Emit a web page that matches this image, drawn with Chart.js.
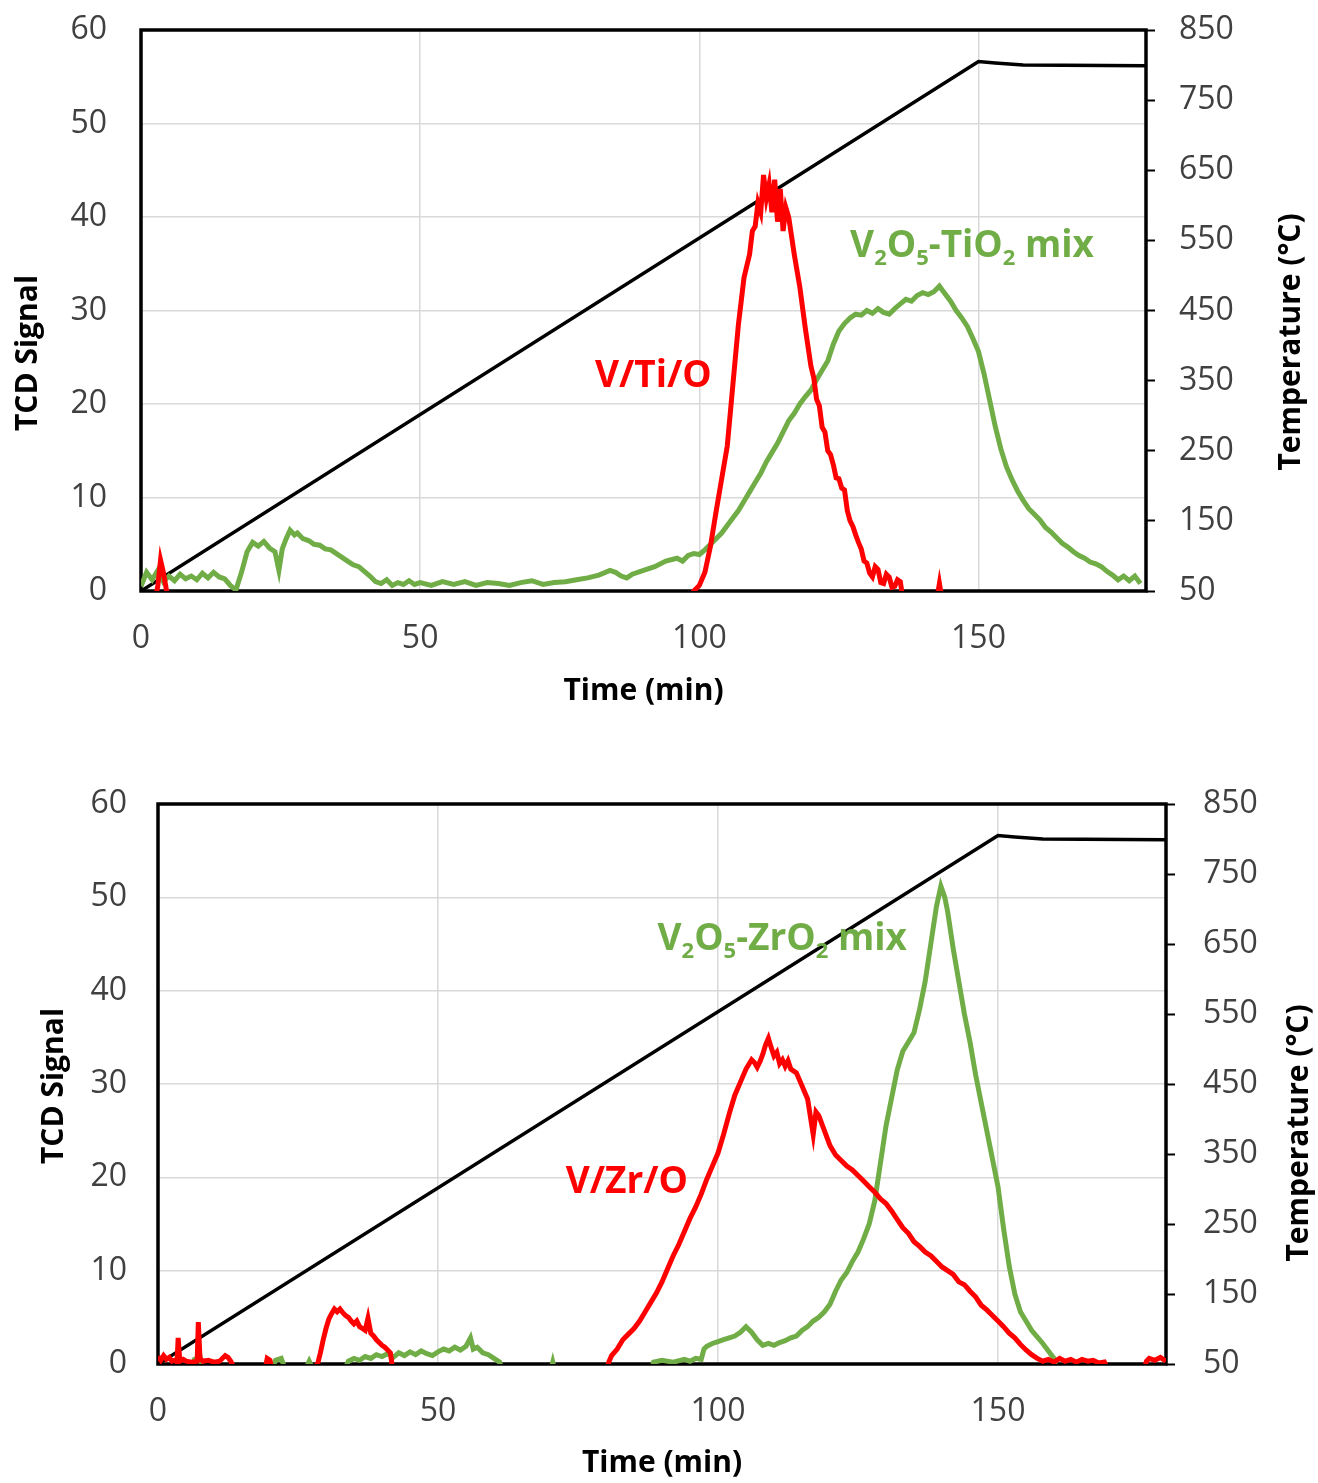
<!DOCTYPE html>
<html>
<head>
<meta charset="utf-8">
<script src="https://cdn.jsdelivr.net/npm/chart.js@4.4.1/dist/chart.umd.min.js"></script>
<style>
  body { margin: 0; background: #fff; }
  canvas { position: absolute; left: 0; }
</style>
</head>
<body>
<canvas id="chartTi" width="1318" height="740" style="top:0"></canvas>
<canvas id="chartZr" width="1318" height="723" style="top:760px"></canvas>
<script>
// ---- data: [time (min), value] ----
// -1 means "below zero", hidden under the axis as in the original

const tiRed = [
  [0,-1],[2.5,-1],[3,0.5],[3.5,3.3],[4,2.0],[4.5,0.3],[5,-1],[98,-1],[99,0],[100,0.6],
  [101,2.0],[102,4.8],[103,8.5],[104,12.0],[105,15.5],[106,22.0],[107,28.5],[107.5,31.0],
  [108,33.5],[109,36.0],[109.5,38.5],[110,39.0],[110.5,41.5],[111,40.5],[111.5,44.5],
  [112,42.0],[112.5,43.5],[113,40.5],[113.5,44.0],[114,39.5],[114.5,43.0],[115,38.5],
  [115.5,41.0],[116,40.0],[117,36.0],[118,32.5],[119,28.0],[120,24.0],[120.5,22.8],[121,20.5],
  [121.5,19.8],[122,17.5],[122.5,17.0],[123,15.0],[123.5,14.6],[124,13.5],[124.5,12.1],
  [125,12.0],[125.5,11.0],[126,10.8],[126.5,8.6],[127,7.5],[127.5,6.9],[128,6.0],[128.5,5.2],
  [129,4.5],[129.5,3.2],[130,3.0],[130.5,1.9],[131,1.5],[131.5,2.6],[132,2.3],[132.5,0.9],
  [133,0.8],[133.5,1.8],[134,1.5],[134.5,0.4],[135,0.5],[135.5,1.2],[136,1.0],[136.5,-1],
  [142.5,-1],[143,0.8],[143.5,-1],[180,-1]
];

const tiMix = [
  [0,0.5],[1,2.0],[2,1.2],[3,2.2],[4,1.0],[5,1.6],[6,1.1],[7,1.8],[8,1.3],[9,1.6],[10,1.2],
  [11,1.9],[12,1.4],[13,2.0],[14,1.5],[15,1.3],[16,0.6],[17,0.1],[18,2.0],[19,4.2],[20,5.2],
  [21,4.8],[22,5.3],[23,4.6],[24,4.2],[24.7,2.2],[25.3,4.5],[26,5.6],[26.7,6.5],[27.5,6.0],
  [28,6.2],[29,5.6],[30,5.4],[31,5.0],[32,4.9],[33,4.5],[34,4.4],[35,4.0],[36,3.6],[37,3.2],
  [38,2.8],[39,2.6],[40,2.1],[41,1.6],[42,1.0],[43,0.8],[44,1.2],[45,0.6],[46,0.9],[47,0.7],
  [48,1.1],[49,0.7],[50,0.9],[52,0.6],[54,1.0],[56,0.7],[58,1.0],[60,0.6],[62,0.9],[64,0.8],
  [66,0.6],[68,0.9],[70,1.1],[72,0.7],[74,0.9],[76,1.0],[78,1.2],[80,1.4],[82,1.7],[84,2.2],
  [85,2.0],[86,1.6],[87,1.4],[88,1.8],[90,2.2],[92,2.6],[94,3.2],[96,3.5],[97,3.2],[98,3.8],
  [99,4.0],[100,3.9],[101,4.4],[102,5.0],[103,5.6],[104,6.2],[105,7.0],[106,7.8],[107,8.6],
  [108,9.6],[109,10.6],[110,11.6],[111,12.6],[112,13.8],[113,14.8],[114,15.8],[115,17.0],
  [116,18.2],[117,19.0],[118,20.0],[119,20.8],[120,21.5],[121,22.6],[122,23.6],[123,24.6],
  [124,26.4],[125,27.8],[126,28.6],[127,29.2],[128,29.6],[129,29.5],[130,30.0],[131,29.7],
  [132,30.2],[133,29.8],[134,29.6],[135,30.2],[136,30.7],[137,31.2],[138,31.0],[139,31.6],
  [140,31.9],[141,31.7],[142,32.0],[143,32.6],[144,31.8],[145,31.0],[146,30.0],[147,29.2],
  [148,28.3],[149,27.0],[150,25.6],[151,23.2],[152,20.4],[153,17.6],[154,15.2],[155,13.3],
  [156,11.9],[157,10.7],[158,9.7],[159,8.8],[160,8.2],[161,7.6],[162,6.8],[163,6.3],[164,5.7],
  [165,5.1],[166,4.7],[167,4.2],[168,3.8],[169,3.5],[170,3.1],[171,2.9],[172,2.6],[173,2.1],
  [174,1.7],[175,1.2],[176,1.6],[177,1.1],[178,1.6],[179,0.8]
];

const tiTemp = [[0,50],[150,805],[153,803],[158,800],[180,799]];

const zrRed = [
  [0,0.8],[0.5,0.4],[1,0.9],[1.5,0.5],[2,0.7],[2.5,0.3],[3,0.4],[3.4,0.2],[3.6,2.8],[3.9,0.3],
  [4.5,0.5],[5,0.3],[6,0.2],[7,0.3],[7.2,4.5],[7.5,0.6],[8,0.3],[9,0.4],[10,0.2],[11,0.3],
  [12,0.9],[12.5,0.7],[13,0.3],[14,-1],[19,-1],[19.5,0.6],[20,0.4],[20.5,-1],[27,-1],
  [28.5,0],[29,1.2],[29.5,2.6],[30,3.8],[30.5,4.8],[31,5.4],[31.5,5.9],[32,5.6],[32.5,5.9],
  [33,5.5],[33.5,5.2],[34,5.0],[34.5,4.6],[35,4.3],[35.5,4.6],[36,4.0],[36.5,3.8],[37,3.6],
  [37.5,4.9],[38,3.3],[38.5,3.0],[39,2.6],[39.5,2.3],[40,2.0],[40.5,1.8],[41,1.5],[41.5,1.2],
  [42,-1],[80,-1],[80.5,0.2],[81,0.9],[82,1.6],[83,2.6],[84,3.2],[85,3.8],[86,4.6],[87,5.6],
  [88,6.6],[89,7.6],[90,8.8],[91,10.2],[92,11.6],[93,12.8],[94,14.2],[95,15.6],[96,16.8],
  [97,18.2],[98,19.8],[99,21.2],[100,22.6],[101,24.6],[102,26.8],[103,28.8],[104,30.2],
  [105,31.6],[106,32.6],[106.5,32.3],[107,31.8],[107.5,32.4],[108,33.2],[108.5,34.2],
  [109,34.9],[109.5,33.9],[110,33.0],[110.5,33.4],[111,32.2],[111.5,32.6],[112,31.9],
  [112.5,32.5],[113,31.6],[114,31.2],[115,29.8],[116,28.4],[116.5,26.5],[117,24.6],
  [117.5,27.0],[118,26.6],[119,25.0],[120,23.4],[121,22.4],[122,21.8],[123,21.2],[124,20.8],
  [125,20.2],[126,19.6],[127,19.0],[128,18.4],[129,17.7],[130,17.2],[131,16.4],[132,15.5],
  [133,14.6],[134,14.0],[135,13.1],[136,12.6],[137,12.0],[138,11.6],[139,11.0],[140,10.4],
  [141,10.0],[142,9.6],[143,8.8],[144,8.5],[145,7.8],[146,7.2],[147,6.3],[148,5.8],[149,5.2],
  [150,4.6],[151,4.0],[152,3.3],[153,2.8],[154,2.1],[155,1.5],[156,1.0],[157,0.6],[158,0.3],
  [159,0.5],[160,0.2],[161,0.6],[162,0.3],[163,0.5],[164,0.2],[165,0.5],[166,0.3],[167,0.4],
  [168,0.1],[169,0.2],[170,-1],[176,-1],[176.5,0.3],[177,0.6],[178,0.4],[179,0.7],[180,0.3]
];

const zrMix = [
  [0,-1],[6,-1],[6.5,0.5],[7.5,0.8],[8,-1],[20,-1],[21,0.4],[22,0.6],[23,-1],[26,-1],[27,0.3],
  [28,-1],[33,-1],[34,0.3],[35,0.6],[36,0.4],[37,0.8],[38,0.6],[39,1.0],[40,0.8],[41,1.1],
  [42,0.7],[43,1.2],[44,0.9],[45,1.3],[46,1.0],[47,1.4],[48,1.1],[49,0.9],[50,1.3],[51,1.6],
  [52,1.4],[53,1.8],[54,1.5],[55,1.9],[55.8,2.8],[56.3,1.6],[57,1.8],[58,1.2],[59,1.0],
  [60,0.6],[61,0.2],[61.5,-1],[70,-1],[70.5,0.2],[71,-1],[88,-1],[88.5,0.2],[90,0.4],[92,0.2],
  [94,0.5],[95,0.3],[96,0.6],[97,0.5],[97.5,1.6],[98,1.9],[99,2.2],[100,2.4],[101,2.6],
  [102,2.8],[103,3.0],[104,3.4],[105,4.0],[106,3.4],[107,2.6],[108,2.0],[109,2.2],[110,2.0],
  [111,2.3],[112,2.5],[113,2.8],[114,3.0],[115,3.6],[116,4.0],[117,4.6],[118,5.0],[119,5.6],
  [120,6.4],[121,7.8],[122,9.0],[123,9.8],[124,11.0],[125,12.0],[126,13.4],[127,15.0],
  [128,17.5],[129,21.5],[130,25.5],[131,28.5],[132,31.5],[133,33.5],[134,34.5],[135,35.5],
  [136,38.0],[137,41.0],[138,45.0],[139,49.0],[139.8,51.2],[140.5,50.0],[141,48.5],[142,44.5],
  [143,41.0],[144,37.5],[145,34.5],[146,31.0],[147,28.0],[148,25.0],[149,22.0],[150,19.0],
  [151,14.5],[152,10.5],[153,7.5],[154,5.6],[155,4.6],[156,3.6],[157,2.9],[158,2.2],[159,1.4],
  [160,0.6],[160.5,-1],[180,-1]
];

const zrTemp = [[0,50],[150,805],[153,803],[158,800],[180,799]];

const xTicks = [0, 50, 100, 150];

// ---- drawing ----
const RED = '#ff0000', GREEN = '#70ad47', BLACK = '#000000';
const FONT = '"Open Sans", "DejaVu Sans", sans-serif';
const tickFont = { family: FONT, size: 32 };
const tickColor = '#404040';

function series(points, color, width, axis) {
  return {
    data: points.map(p => ({ x: p[0], y: p[1] })),
    borderColor: color,
    borderWidth: width,
    pointRadius: 0,
    tension: 0,
    fill: false,
    yAxisID: axis
  };
}

const framePlugin = {
  id: 'frame',
  beforeDatasetsDraw(chart) {
    const { ctx, chartArea: a } = chart;
    ctx.save();
    ctx.strokeStyle = BLACK;
    ctx.lineWidth = 3.5;
    ctx.strokeRect(a.left, a.top, a.right - a.left, a.bottom - a.top);
    ctx.restore();
  }
};

// text labels: "_x" parts are subscripts
function notesPlugin(L) {
  return {
    id: 'notes',
    afterDatasetsDraw(chart) {
      const { ctx, scales } = chart;
      ctx.save();
      ctx.textBaseline = 'alphabetic';
      ctx.textAlign = 'left';
      L.notes.forEach(n => {
        let x = scales.x.getPixelForValue(n.t);
        const y = scales.y.getPixelForValue(n.v);
        ctx.fillStyle = n.color;
        n.parts.forEach(p => {
          const sub = p.startsWith('_');
          const txt = sub ? p.slice(1) : p;
          ctx.font = 'bold ' + (sub ? 22 : 37) + 'px ' + FONT;
          ctx.fillText(txt, x, sub ? y + 8 : y);
          x += ctx.measureText(txt).width;
        });
      });
      // axis titles on the value axes, both read bottom to top
      ctx.fillStyle = BLACK;
      ctx.font = 'bold 30px ' + FONT;
      ctx.textAlign = 'center';
      ctx.textBaseline = 'middle';
      [[L.leftTitle, 'TCD Signal'], [L.rightTitle, 'Temperature (°C)']].forEach(([pos, txt]) => {
        ctx.save();
        ctx.translate(pos[0], pos[1]);
        ctx.rotate(-Math.PI / 2);
        ctx.fillText(txt, 0, 0);
        ctx.restore();
      });
      ctx.restore();
    }
  };
}

function buildChart(id, red, mix, temp, L) {
  return new Chart(document.getElementById(id), {
    type: 'line',
    data: {
      datasets: [
        series(red, RED, 5, 'y'),
        series(mix, GREEN, 5, 'y'),
        series(temp, BLACK, 3.5, 'y2')
      ]
    },
    options: {
      responsive: false,
      animation: false,
      devicePixelRatio: 1,
      layout: { padding: { top: L.top, left: 0, right: 0, bottom: 0 } },
      plugins: { legend: { display: false }, tooltip: { enabled: false } },
      scales: {
        x: {
          type: 'linear',
          min: 0,
          max: 180,
          afterFit: sc => { sc.height = L.xH; sc.paddingLeft = 0; sc.paddingRight = 0; },
          afterBuildTicks: sc => { sc.ticks = xTicks.map(v => ({ value: v })); },
          ticks: { font: tickFont, color: tickColor, padding: 29, maxRotation: 0 },
          grid: { color: '#d9d9d9', lineWidth: 1.5, drawTicks: false },
          border: { display: false },
          title: {
            display: true,
            text: 'Time (min)',
            color: BLACK,
            font: { family: FONT, size: 30, weight: 'bold' },
            padding: { top: 0, bottom: L.xTitlePad }
          }
        },
        y: {
          position: 'left',
          min: 0,
          max: 60,
          afterFit: sc => { sc.width = L.yW; sc.paddingTop = 0; sc.paddingBottom = 0; },
          ticks: { stepSize: 10, font: tickFont, color: tickColor, padding: L.yPad },
          grid: { color: '#d9d9d9', lineWidth: 1.5, drawTicks: false },
          border: { display: false }
        },
        y2: {
          position: 'right',
          min: 50,
          max: 850,
          afterFit: sc => { sc.width = L.y2W; sc.paddingTop = 0; sc.paddingBottom = 0; },
          ticks: { stepSize: 100, font: tickFont, color: tickColor, padding: L.y2Pad },
          grid: { drawOnChartArea: false, drawTicks: true, tickLength: 9, tickColor: BLACK, tickWidth: 2 },
          border: { display: false }
        }
      }
    },
    plugins: [framePlugin, notesPlugin(L)]
  });
}

buildChart('chartTi', tiRed, tiMix, tiTemp, {
  top: 30, xH: 149, yW: 141, y2W: 172, yPad: 34, y2Pad: 24, xTitlePad: 31,
  leftTitle: [28, 353], rightTitle: [1291, 342],
  notes: [
    { t: 81.3, v: 21.8, color: RED, parts: ['V/Ti/O'] },
    { t: 127.0, v: 35.7, color: GREEN, parts: ['V', '_2', 'O', '_5', '-TiO', '_2', ' mix'] }
  ]
});

buildChart('chartZr', zrRed, zrMix, zrTemp, {
  top: 44, xH: 119, yW: 158, y2W: 152, yPad: 31, y2Pad: 28, xTitlePad: 2,
  leftTitle: [54, 326], rightTitle: [1299, 373],
  notes: [
    { t: 72.8, v: 18.3, color: RED, parts: ['V/Zr/O'] },
    { t: 89.2, v: 44.4, color: GREEN, parts: ['V', '_2', 'O', '_5', '-ZrO', '_2', ' mix'] }
  ]
});
</script>
</body>
</html>
